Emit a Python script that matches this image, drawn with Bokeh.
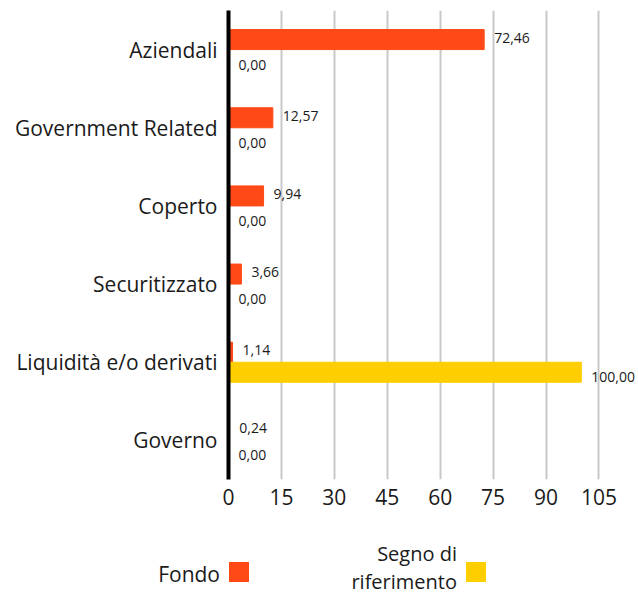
from bokeh.plotting import figure
from bokeh.layouts import column
from bokeh.models import ColumnDataSource, FixedTicker, Range1d, FactorRange, Div
from bokeh.transform import dodge
from bokeh.core.properties import value
from bokeh.embed import file_html
from bokeh.resources import INLINE

categories = ["Aziendali", "Government Related", "Coperto", "Securitizzato",
              "Liquidità e/o derivati", "Governo"]
fondo = [72.46, 12.57, 9.94, 3.66, 1.14, 0.24]
riferimento = [0.00, 0.00, 0.00, 0.00, 100.00, 0.00]
x_ticks = [0, 15, 30, 45, 60, 75, 90, 105]
series_names = ["Fondo", "Segno di<br>riferimento"]
colors = ["#FF4A17", "#FFCE00"]

FONT = "Open Sans"
TXT = "#1a1a1a"


def fmt(v):
    return f"{v:.2f}".replace(".", ",")


src = ColumnDataSource(dict(
    cat=categories, fondo=fondo, rif=riferimento,
    fondo_lbl=[fmt(v) for v in fondo], rif_lbl=[fmt(v) for v in riferimento],
))

p = figure(width=638, height=520,
           y_range=FactorRange(*reversed(categories), range_padding=0),
           x_range=Range1d(0, 116.2),
           output_backend="svg", toolbar_location=None,
           min_border_left=228, min_border_right=0,
           min_border_top=10, min_border_bottom=41)

off = 0.128
bh = 0.256
p.hbar(y=dodge("cat", off, range=p.y_range), left=0, right="fondo", height=bh,
       color=colors[0], source=src)
p.hbar(y=dodge("cat", -off, range=p.y_range), left=0, right="rif", height=bh,
       color=colors[1], source=src)

p.text(x="fondo", y=dodge("cat", off, range=p.y_range), text="fondo_lbl",
       x_offset=10, y_offset=-2, text_baseline="middle", text_align="left",
       text_font_size="14px", text_font=value(FONT), text_color=TXT, source=src)
p.text(x="rif", y=dodge("cat", -off, range=p.y_range), text="rif_lbl",
       x_offset=10, y_offset=5, text_baseline="middle", text_align="left",
       text_font_size="14px", text_font=value(FONT), text_color=TXT, source=src)

# axes
p.yaxis.axis_line_width = 4
p.yaxis.axis_line_color = "black"
p.yaxis.major_tick_line_color = None
p.yaxis.minor_tick_line_color = None
p.yaxis.major_label_text_font_size = "21px"
p.yaxis.major_label_text_font = FONT
p.yaxis.major_label_text_color = TXT
p.yaxis.major_label_standoff = 5

p.xaxis.ticker = FixedTicker(ticks=x_ticks)
p.xaxis.axis_line_color = None
p.xaxis.major_tick_line_color = None
p.xaxis.minor_tick_line_color = None
p.xaxis.major_label_text_font_size = "21px"
p.xaxis.major_label_text_font = FONT
p.xaxis.major_label_text_color = TXT
p.xaxis.major_label_standoff = 3

p.xgrid.ticker = FixedTicker(ticks=x_ticks)
p.xgrid.grid_line_color = "#c8c8c8"
p.xgrid.grid_line_width = 2
p.ygrid.grid_line_color = None
p.outline_line_color = None

# legend (text left of swatch)
legend_html = f"""
<div style="position:relative;width:638px;height:76px;font-family:'{FONT}';color:{TXT};">
  <div style="position:absolute;right:418px;top:41px;font-size:21px;line-height:26px;text-align:right;white-space:nowrap;">{series_names[0]}</div>
  <div style="position:absolute;left:229px;top:42px;width:20px;height:20px;background:{colors[0]};"></div>
  <div style="position:absolute;right:181px;top:20px;font-size:20px;line-height:28px;text-align:right;white-space:nowrap;">{series_names[1]}</div>
  <div style="position:absolute;left:466px;top:42px;width:20px;height:20px;background:{colors[1]};"></div>
</div>
"""
lg = Div(text=legend_html, width=638, height=76, margin=0)

layout = column(p, lg, spacing=0)
open("out.html", "w").write(file_html(layout, INLINE))
